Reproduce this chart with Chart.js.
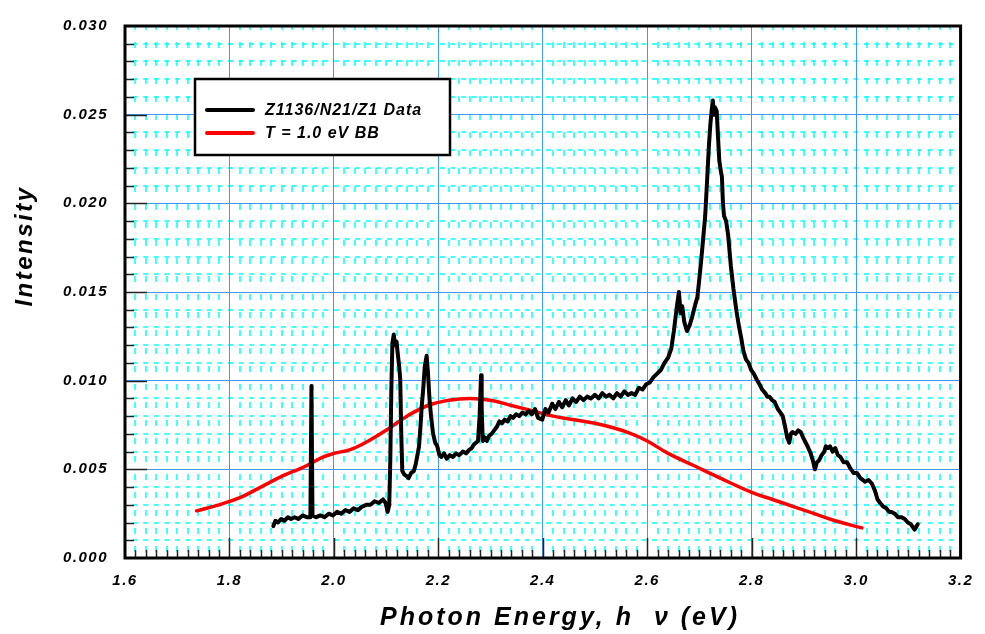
<!DOCTYPE html>
<html lang="en">
<head>
  <meta charset="UTF-8">
  <title>Photon Energy vs Intensity</title>
  <script src="https://cdn.jsdelivr.net/npm/chart.js"></script>
  <style>
    html, body { margin: 0; padding: 0; background: #fff; }
    #wrap { width: 985px; height: 634px; position: relative; }
  </style>
</head>
<body>
  <div id="wrap"><canvas id="spectrum"></canvas></div>

  <script>
    // measured spectrum (black)
    const dataEnergy = [
      1.884, 1.888, 1.893, 1.899, 1.905, 1.912, 1.918, 1.925, 1.932, 1.940, 1.948, 1.955, 1.957, 1.959,
      1.966, 1.974, 1.982, 1.990, 1.998, 2.006, 2.014, 2.022, 2.030, 2.038, 2.046, 2.054, 2.062, 2.070,
      2.078, 2.086, 2.094, 2.099, 2.103, 2.106, 2.108, 2.110, 2.112, 2.1146, 2.117, 2.120, 2.122, 2.125,
      2.127, 2.129, 2.131, 2.135, 2.140, 2.143, 2.148, 2.153, 2.156, 2.160, 2.163, 2.166, 2.168, 2.171,
      2.174, 2.1776, 2.180, 2.183, 2.186, 2.190, 2.194, 2.198, 2.202, 2.206, 2.211, 2.216, 2.222, 2.228,
      2.234, 2.240, 2.247, 2.253, 2.259, 2.264, 2.268, 2.272, 2.276, 2.279, 2.2818, 2.283, 2.285, 2.289,
      2.293, 2.2975, 2.302, 2.307, 2.312, 2.317, 2.322, 2.327, 2.333, 2.338, 2.343, 2.349, 2.355, 2.361,
      2.367, 2.373, 2.379, 2.385, 2.391, 2.399, 2.405, 2.411, 2.418, 2.424, 2.431, 2.437, 2.444, 2.450,
      2.457, 2.464, 2.471, 2.478, 2.485, 2.492, 2.500, 2.507, 2.514, 2.521, 2.528, 2.535, 2.542, 2.549,
      2.556, 2.563, 2.570, 2.577, 2.584, 2.591, 2.598, 2.605, 2.612, 2.619, 2.626, 2.633, 2.640, 2.646,
      2.651, 2.656, 2.6606, 2.664, 2.667, 2.671, 2.676, 2.681, 2.686, 2.692, 2.696, 2.700, 2.704, 2.708,
      2.711, 2.715, 2.718, 2.721, 2.7236, 2.7256, 2.728, 2.730, 2.733, 2.736, 2.738, 2.741, 2.743, 2.745,
      2.747, 2.751, 2.755, 2.760, 2.765, 2.771, 2.776, 2.780, 2.784, 2.789, 2.794, 2.799, 2.804, 2.809,
      2.815, 2.820, 2.826, 2.830, 2.834, 2.839, 2.844, 2.850, 2.855, 2.8595, 2.864, 2.868, 2.872, 2.875,
      2.878, 2.884, 2.889, 2.894, 2.900, 2.907, 2.913, 2.918, 2.921, 2.925, 2.929, 2.934, 2.939, 2.942,
      2.946, 2.950, 2.955, 2.960, 2.965, 2.970, 2.976, 2.9826, 2.988, 2.995, 3.0015, 3.008, 3.013, 3.017,
      3.024, 3.030, 3.036, 3.041, 3.046, 3.052, 3.058, 3.063, 3.068, 3.074, 3.080, 3.087, 3.093, 3.099,
      3.105, 3.112, 3.118
    ];
    const dataIntensity = [
      0.0018, 0.0021, 0.0020, 0.0022, 0.0021, 0.0023, 0.0022, 0.0023, 0.0022, 0.0024, 0.0023, 0.0023, 0.0097, 0.0024,
      0.0023, 0.0024, 0.0023, 0.0025, 0.0024, 0.0026, 0.0025, 0.0027, 0.0026, 0.0028, 0.0027, 0.0029, 0.0030, 0.0030,
      0.0032, 0.0031, 0.0033, 0.0031, 0.0026, 0.0030, 0.0055, 0.0095, 0.0121, 0.0126, 0.0120, 0.0122, 0.0116, 0.0108,
      0.0101, 0.0070, 0.0049, 0.0047, 0.0046, 0.0045, 0.0048, 0.0049, 0.0052, 0.0058, 0.0063, 0.0075, 0.0085, 0.0095,
      0.0108, 0.0114, 0.0105, 0.0090, 0.0080, 0.0070, 0.0065, 0.0063, 0.0058, 0.0057, 0.0059, 0.0056, 0.0058, 0.0057,
      0.0059, 0.0058, 0.0060, 0.0059, 0.0061, 0.0062, 0.0064, 0.0065, 0.0066, 0.0080, 0.0103, 0.0085, 0.0066, 0.0068,
      0.0066, 0.0069, 0.0070, 0.0072, 0.0074, 0.0077, 0.0076, 0.0078, 0.0077, 0.0080, 0.0079, 0.0081, 0.0080, 0.0082,
      0.0081, 0.0083, 0.0081, 0.0084, 0.0079, 0.0078, 0.0084, 0.0082, 0.0087, 0.0084, 0.0088, 0.0085, 0.0089, 0.0086,
      0.0090, 0.0088, 0.0091, 0.0089, 0.0091, 0.0090, 0.0092, 0.0090, 0.0093, 0.0091, 0.0092, 0.0090, 0.0093, 0.0091,
      0.0094, 0.0092, 0.0093, 0.0092, 0.0096, 0.0095, 0.0098, 0.0099, 0.0102, 0.0104, 0.0106, 0.0110, 0.0113, 0.0118,
      0.0128, 0.0140, 0.0150, 0.0138, 0.0142, 0.0133, 0.0128, 0.0131, 0.0136, 0.0143, 0.0147, 0.0158, 0.0170, 0.0183,
      0.0193, 0.0215, 0.0232, 0.0245, 0.0253, 0.0258, 0.0250, 0.0254, 0.0252, 0.0235, 0.0224, 0.0218, 0.0215, 0.0200,
      0.0193, 0.0190, 0.0182, 0.0165, 0.0152, 0.0139, 0.0130, 0.0124, 0.0117, 0.0112, 0.0110, 0.0106, 0.0104, 0.0101,
      0.0098, 0.0095, 0.0093, 0.0091, 0.0091, 0.0089, 0.0088, 0.0084, 0.0082, 0.0080, 0.0074, 0.0068, 0.0065, 0.0070,
      0.0071, 0.0070, 0.0072, 0.0071, 0.0067, 0.0063, 0.0059, 0.0054, 0.0050, 0.0054, 0.0055, 0.0058, 0.0060, 0.0063,
      0.0062, 0.0063, 0.0060, 0.0062, 0.0058, 0.0057, 0.0054, 0.0054, 0.0051, 0.0048, 0.0048, 0.0045, 0.0044, 0.0043,
      0.0044, 0.0042, 0.0038, 0.0033, 0.0031, 0.0029, 0.0028, 0.0026, 0.0026, 0.0025, 0.0023, 0.0023, 0.0022, 0.0020,
      0.0019, 0.0016, 0.0019
    ];

    // blackbody T = 1.0 eV (red)
    const bbEnergy = [
      1.737, 1.78, 1.82, 1.86, 1.90, 1.94, 1.98, 2.00, 2.03, 2.06, 2.10, 2.14, 2.18, 2.22, 2.26, 2.30, 2.34,
      2.38, 2.42, 2.46, 2.50, 2.54, 2.57, 2.60, 2.64, 2.69, 2.74, 2.80, 2.84, 2.88, 2.92, 2.96, 3.011
    ];
    const bbIntensity = [
      0.00266, 0.0030, 0.0034, 0.0040, 0.0046, 0.0051, 0.0057, 0.0059, 0.0061, 0.0065, 0.0072, 0.0080, 0.0086,
      0.0089, 0.0090, 0.0089, 0.0086, 0.0083, 0.0080, 0.0078, 0.0076, 0.0073, 0.0070, 0.0066, 0.0059, 0.0052,
      0.0045, 0.0037, 0.0033, 0.0029, 0.0025, 0.0021, 0.0017
    ];

    const seriesLabels = ['Z1136/N21/Z1 Data', 'T = 1.0 eV BB'];
    const xTitle = 'Photon Energy, h  \u03BD (eV)';
    const yTitle = 'Intensity';

    const FONT = '"Liberation Sans", Arial, sans-serif';

    // minor dashed grid, inward ticks, frame, legend and axis titles
    const decor = {
      id: 'decor',
      beforeDraw(chart) {
        const { ctx, chartArea: a, scales } = chart;
        const xs = scales.x, ys = scales.y;
        ctx.save();
        ctx.strokeStyle = '#00ffff';
        ctx.lineWidth = 1.5;
        ctx.setLineDash([6, 12]);
        ctx.lineDashOffset = 2;
        for (let i = 1; i < 80; i++) {
          if (i % 10 === 0) continue;
          const px = Math.round(xs.getPixelForValue(1.6 + i * 0.02));
          ctx.beginPath(); ctx.moveTo(px, a.top); ctx.lineTo(px, a.bottom); ctx.stroke();
        }
        ctx.setLineDash([5, 5.6]);
        ctx.lineDashOffset = 3;
        for (let i = 1; i < 30; i++) {
          if (i % 5 === 0) continue;
          const py = Math.round(ys.getPixelForValue(i * 0.001));
          ctx.beginPath(); ctx.moveTo(a.left, py); ctx.lineTo(a.right, py); ctx.stroke();
        }
        ctx.restore();
        ctx.letterSpacing = '1.5px';
      },
      afterDatasetsDraw(chart) {
        const { ctx, chartArea: a, scales } = chart;
        const xs = scales.x, ys = scales.y;
        ctx.save();
        ctx.strokeStyle = '#222';
        ctx.lineWidth = 1.5;
        for (let i = 1; i < 80; i++) {
          const px = Math.round(xs.getPixelForValue(1.6 + i * 0.02)) + 0.5;
          const len = i % 10 === 0 ? 20 : 8;
          ctx.beginPath(); ctx.moveTo(px, a.bottom); ctx.lineTo(px, a.bottom - len); ctx.stroke();
        }
        for (let i = 1; i < 30; i++) {
          const py = Math.round(ys.getPixelForValue(i * 0.001)) + 0.5;
          const len = i % 5 === 0 ? 22 : 9;
          ctx.beginPath(); ctx.moveTo(a.left, py); ctx.lineTo(a.left + len, py); ctx.stroke();
        }
        // frame
        ctx.strokeStyle = '#000';
        ctx.lineWidth = 3;
        ctx.strokeRect(a.left, a.top, a.right - a.left, a.bottom - a.top);

        // legend
        const lx = 195, ly = 79, lw = 255, lh = 76;
        ctx.fillStyle = '#fff';
        ctx.fillRect(lx, ly, lw, lh);
        ctx.lineWidth = 2.5;
        ctx.strokeRect(lx, ly, lw, lh);
        ctx.font = 'italic bold 16px ' + FONT;
        ctx.letterSpacing = '1px';
        ctx.textBaseline = 'middle';
        ctx.textAlign = 'left';
        chart.data.datasets.forEach((ds, i) => {
          const yy = ly + 31 + i * 23;
          ctx.strokeStyle = ds.borderColor;
          ctx.lineWidth = 4;
          ctx.lineCap = 'round';
          ctx.beginPath(); ctx.moveTo(207, yy); ctx.lineTo(253, yy); ctx.stroke();
          ctx.fillStyle = '#000';
          ctx.fillText(ds.label, 265, yy + 1);
        });
        ctx.restore();
      },
      afterDraw(chart) {
        const { ctx } = chart;
        ctx.save();
        ctx.fillStyle = '#000';
        ctx.textAlign = 'center';
        ctx.textBaseline = 'middle';
        ctx.font = 'italic bold 25px ' + FONT;
        ctx.letterSpacing = '3px';
        ctx.fillText(xTitle, 560, 618);
        ctx.translate(25, 246);
        ctx.rotate(-Math.PI / 2);
        ctx.font = 'italic bold 24px ' + FONT;
        ctx.letterSpacing = '2.5px';
        ctx.fillText(yTitle, 0, 0);
        ctx.restore();
      }
    };

    const toPoints = (xs, ys) => xs.map((x, i) => ({ x: x, y: ys[i] }));

    const ctx = document.getElementById('spectrum').getContext('2d');
    const chart = new Chart(ctx, {
      type: 'line',
      data: {
        datasets: [
          {
            label: seriesLabels[0],
            data: toPoints(dataEnergy, dataIntensity),
            borderColor: '#000000',
            borderWidth: 4,
            borderJoinStyle: 'round',
            borderCapStyle: 'round',
            pointRadius: 0,
            tension: 0,
            fill: false
          },
          {
            label: seriesLabels[1],
            data: toPoints(bbEnergy, bbIntensity),
            borderColor: '#ff0000',
            borderWidth: 3.5,
            borderCapStyle: 'round',
            pointRadius: 0,
            tension: 0.4,
            fill: false
          }
        ]
      },
      options: {
        responsive: true,
        maintainAspectRatio: false,
        animation: false,
        layout: { padding: { top: 17, right: 15, left: 0, bottom: 0 } },
        plugins: {
          legend: { display: false },
          tooltip: { enabled: false }
        },
        scales: {
          x: {
            type: 'linear',
            min: 1.6,
            max: 3.2,
            afterFit: s => { s.height = 76; },
            border: { display: false },
            grid: { color: '#3d99ff', lineWidth: 1, drawTicks: false },
            ticks: {
              stepSize: 0.2,
              padding: 14,
              color: '#000',
              font: { family: FONT, size: 15, weight: 'bold', style: 'italic' },
              callback: v => v.toFixed(1)
            }
          },
          y: {
            type: 'linear',
            min: 0,
            max: 0.03,
            afterFit: s => { s.width = 125; },
            border: { display: false },
            grid: { color: '#3d99ff', lineWidth: 1, drawTicks: false },
            ticks: {
              stepSize: 0.005,
              padding: 17,
              color: '#000',
              font: { family: FONT, size: 15, weight: 'bold', style: 'italic' },
              callback: v => v.toFixed(3)
            }
          }
        }
      },
      plugins: [decor]
    });
  </script>
</body>
</html>
